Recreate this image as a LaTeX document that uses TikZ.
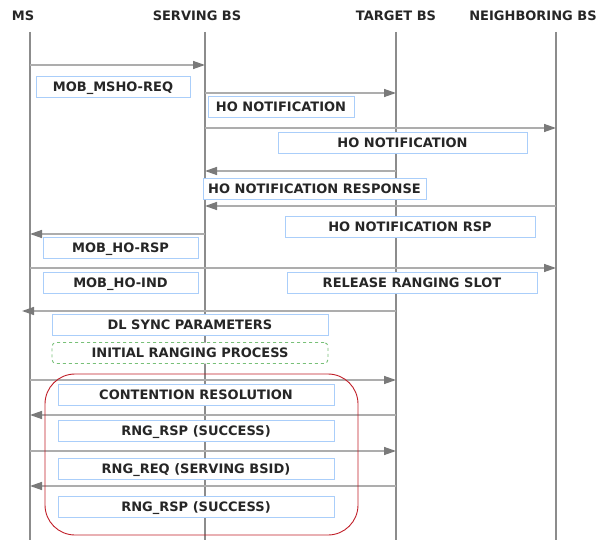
\documentclass[tikz,border=0pt]{standalone}
\usepackage{fontspec}
\setmainfont{DejaVu Sans}
\usepackage{xcolor}
\usepackage{tikz}
\usetikzlibrary{arrows.meta}

\definecolor{boxblue}{RGB}{170,206,250}
\definecolor{rangegreen}{RGB}{120,192,120}
\definecolor{framered}{RGB}{192,30,40}

\begin{document}
\begin{tikzpicture}[x=1pt,y=-1pt,
  lifeline/.style={draw=black!45, line width=2pt},
  msg/.style={draw=black!32, line width=1.4pt, -{Triangle[length=12pt,width=8pt,color=black!52]}},
  head/.style={font=\bfseries\fontsize{13}{15}\selectfont, text=black!85, inner sep=0pt},
  msgbox/.style={draw=boxblue, fill=white, line width=0.9pt, minimum height=21pt, inner sep=0pt, text height=9.5pt, text depth=0pt, font=\bfseries\fontsize{13}{15}\selectfont, text=black!85}]
\useasboundingbox (0,0) rectangle (597,540);

\node[head] (ms) at (23,16) {MS};
\node[head] (sbs) at (197,16) {SERVING BS};
\node[head] (tbs) at (396,16) {TARGET BS};
\node[head] (nbs) at (533,16) {NEIGHBORING BS};

\coordinate (msl) at (30,32);
\coordinate (sbsl) at (205,32);
\coordinate (tbsl) at (396,32);
\coordinate (nbsl) at (556,32);
\coordinate (edge) at (22,311);

\draw[lifeline] (msl) -- (msl |- 0,540);
\draw[lifeline] (sbsl) -- (sbsl |- 0,540);
\draw[lifeline] (tbsl) -- (tbsl |- 0,540);
\draw[lifeline] (nbsl) -- (nbsl |- 0,540);

\draw[msg] (msl |- 0,65) -- (sbsl |- 0,65);
\draw[msg] (sbsl |- 0,93) -- (tbsl |- 0,93);
\draw[msg] (sbsl |- 0,128) -- (nbsl |- 0,128);
\draw[msg] (tbsl |- 0,171) -- (sbsl |- 0,171);
\draw[msg] (nbsl |- 0,206) -- (sbsl |- 0,206);
\draw[msg] (sbsl |- 0,234) -- (msl |- 0,234);
\draw[msg] (msl |- 0,268) -- (nbsl |- 0,268);
\draw[msg] (tbsl |- 0,311) -- (edge);
\draw[msg] (msl |- 0,380) -- (tbsl |- 0,380);
\draw[msg] (tbsl |- 0,415) -- (msl |- 0,415);
\draw[msg] (msl |- 0,451) -- (tbsl |- 0,451);
\draw[msg] (tbsl |- 0,486) -- (msl |- 0,486);

\node[msgbox, minimum width=154pt] (mshoreq) at (113,86.5) {MOB\_MSHO-REQ};
\node[msgbox, minimum width=146pt] (hotarget) at (281,106.5) {HO NOTIFICATION};
\node[msgbox, minimum width=249pt] (honeigh) at (402.5,142.5) {HO NOTIFICATION};
\node[msgbox, minimum width=223pt] (horesp) at (314.5,188.5) {HO NOTIFICATION RESPONSE};
\node[msgbox, minimum width=250pt] (horsp) at (410,227) {HO NOTIFICATION RSP};
\node[msgbox, minimum width=155pt] (hossp) at (120.5,247.5) {MOB\_HO-RSP};
\node[msgbox, minimum width=155pt] (hoind) at (120.5,283) {MOB\_HO-IND};
\node[msgbox, minimum width=250pt] (release) at (412,283) {RELEASE RANGING SLOT};
\node[msgbox, minimum width=276pt] (dlsync) at (190,325) {DL SYNC PARAMETERS};
\node[msgbox, minimum width=276pt, draw=rangegreen, dashed, rounded corners=4pt] (initial) at (190,353) {INITIAL RANGING PROCESS};
\node[msgbox, minimum width=276pt] (contention) at (196,395) {CONTENTION RESOLUTION};
\node[msgbox, minimum width=276pt] (rngrspa) at (196,430.5) {RNG\_RSP (SUCCESS)};
\node[msgbox, minimum width=276pt] (rngreq) at (196,468.5) {RNG\_REQ (SERVING BSID)};
\node[msgbox, minimum width=276pt] (rngrspb) at (196,507) {RNG\_RSP (SUCCESS)};

\draw[framered, line width=0.9pt, rounded corners=30pt] (45,374) rectangle (358,535);
\end{tikzpicture}
\end{document}
